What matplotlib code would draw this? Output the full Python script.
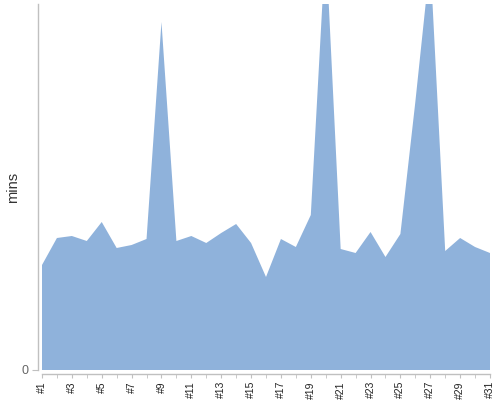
import matplotlib
matplotlib.use("Agg")
import matplotlib.pyplot as plt
from matplotlib.ticker import FixedLocator

plt.rcParams['font.family'] = ['Liberation Sans', 'DejaVu Sans']

days = list(range(1, 32))
labels = ["#%d" % d for d in days]
mins = [105, 132, 134, 129, 148, 122, 125, 131, 348, 129,
        134, 127, 137, 146, 127, 93, 131, 123, 155, 428,
        121, 117, 138, 113, 136, 268, 410, 119, 132, 123, 117]

fig = plt.figure(figsize=(5, 4), dpi=100)
ax = fig.add_axes([0.084, 0.075, 0.896, 0.915])
ax.fill_between(days, mins, 0, color='#8fb2db', linewidth=0)
ax.set_xlim(1, 31)
ax.set_ylim(0, 366)

for s in ['top', 'right']:
    ax.spines[s].set_visible(False)
for s in ['left', 'bottom']:
    ax.spines[s].set_color('#c0c0c0')
    ax.spines[s].set_linewidth(1)
    ax.spines[s].set_position(('outward', 3))

ax.xaxis.set_major_locator(FixedLocator(days[::2]))
ax.set_xticklabels(labels[::2], rotation=90, fontsize=7.5, color='#222222')
ax.xaxis.set_minor_locator(FixedLocator(days[1::2]))
ax.tick_params(axis='x', which='both', length=3, color='#c0c0c0', pad=2)
ax.set_yticks([0])
ax.set_yticklabels(['0'], fontsize=9, color='#666666')
ax.tick_params(axis='y', length=4, color='#c0c0c0', pad=3)
ax.set_ylabel('mins', fontsize=10.5, color='#333333')
ax.yaxis.set_label_coords(-0.05, 0.5)

fig.savefig('out.png', dpi=100)
